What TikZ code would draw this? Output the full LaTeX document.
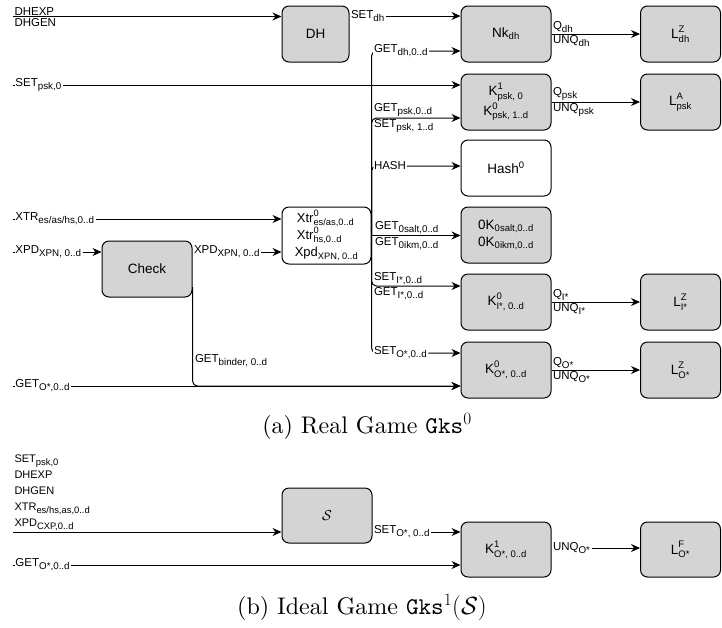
\documentclass[tikz,border=0pt]{standalone}
\usepackage{amsmath}
\usepackage{fontspec}
\newfontfamily\arialfont{Liberation Sans}
\newfontfamily\capfont{lmroman10-regular.otf}
\newfontfamily\captt{lmmono10-regular.otf}
\usepackage{tikz}
\usetikzlibrary{arrows.meta, positioning, calc}
\definecolor{boxgray}{HTML}{D4D4D4}

\DeclareMathSizes{11.5}{11.5}{9.8}{7}
\DeclareMathSizes{11}{11}{9.4}{7}
\DeclareMathSizes{13.5}{13.5}{9.5}{7}
\DeclareMathSizes{13}{13}{9.3}{7}
\DeclareMathSizes{24}{24}{17}{12}

\newcommand{\tx}[1]{\text{#1}}

\begin{document}
\begin{tikzpicture}[x=1pt, y=-1pt,
  every node/.style={font=\arialfont\fontsize{11.5}{14}\selectfont},
  box/.style={draw, rounded corners=7pt, line width=1pt, minimum width=90pt,
              minimum height=56pt, align=center,
              font=\arialfont\fontsize{13.5}{17}\selectfont},
  grey/.style={box, fill=boxgray},
  wbox/.style={box, fill=white},
  lbl/.style={inner sep=1pt},
  onl/.style={lbl, fill=white, anchor=west},
  arr/.style={-{Stealth[length=9pt, width=8pt]}, line width=1pt},
  captxt/.style={font=\capfont\fontsize{24}{28}\selectfont}
]
\useasboundingbox (0,0) rectangle (722,627);

%% (a) real game
\node[grey, minimum width=67pt] (DH) at (315.5,34) {DH};
\node[grey] (Nk)    at (506,34)  {Nk$_{\tx{dh}}$};
\node[grey, minimum width=80pt] (Ldh) at (680.5,34) {$\tx{L}^{\tx{Z}}_{\tx{dh}}$};
\node[grey] (Kpsk)  at (506,102) {$\tx{K}^{\tx{1}}_{\tx{psk, 0}}$\\$\tx{K}^{\tx{0}}_{\tx{psk, 1..d}}$};
\node[grey, minimum width=80pt] (Lpsk) at (680.5,102) {$\tx{L}^{\tx{A}}_{\tx{psk}}$};
\node[wbox] (Hash)  at (506,168) {Hash$^{\tx{0}}$};
\node[wbox, minimum width=89pt, minimum height=57pt, align=left, inner xsep=2pt,
      font=\arialfont\fontsize{13}{17}\selectfont] (Xtr) at (326.5,235.5)
  {\,$\tx{Xtr}^{\tx{0}}_{\tx{es/as,0..d}}$\\\,$\tx{Xtr}^{\tx{0}}_{\tx{hs,0..d}}$\\Xpd$_{\tx{XPN, 0..d}}$};
\node[grey] (Check) at (147,269) {Check};
\node[grey] (Zk)    at (506,235) {0K$_{\tx{0salt,0..d}}$\\0K$_{\tx{0ikm,0..d}}$};
\node[grey] (KI)    at (506,302) {$\tx{K}^{\tx{0}}_{\tx{I*, 0..d}}$};
\node[grey, minimum width=80pt] (LI) at (680.5,302) {$\tx{L}^{\tx{Z}}_{\tx{I*}}$};
\node[grey] (KO)    at (506,370) {$\tx{K}^{\tx{0}}_{\tx{O*, 0..d}}$};
\node[grey, minimum width=80pt] (LO) at (680.5,370) {$\tx{L}^{\tx{Z}}_{\tx{O*}}$};

%% adversary inputs
\coordinate (dhin)  at (13,16.5);
\coordinate (pskin) at (13,85);
\coordinate (xtrin) at (13,219);
\coordinate (xpdin) at (13,252);
\coordinate (getO)  at (13,386);

\draw[arr] (dhin) -- (dhin -| DH.west)
  node[lbl, pos=0, anchor=south west] {DHEXP}
  node[lbl, pos=0, anchor=north west] {DHGEN};
\draw[arr] (pskin) -- (pskin -| Kpsk.west)
  node[onl, pos=0, xshift=1pt] {SET$_{\tx{psk,0}}$};
\draw[arr] (xtrin) -- (xtrin -| Xtr.west)
  node[onl, pos=0, xshift=1pt] {XTR$_{\tx{es/as/hs,0..d}}$};
\draw[arr] (xpdin) -- (xpdin -| Check.west)
  node[onl, pos=0, xshift=1pt] {XPD$_{\tx{XPN, 0..d}}$};
\draw[arr] (getO) -- (getO -| KO.west)
  node[onl, pos=0, xshift=1pt] {GET$_{\tx{O*,0..d}}$};

\draw[arr] ([yshift=18pt]DH.east) -- ([yshift=18pt]Nk.west)
  node[onl, pos=0] {SET$_{\tx{dh}}$};
\draw[arr] (xpdin -| Check.east) -- (xpdin -| Xtr.west)
  node[onl, pos=0] {XPD$_{\tx{XPN, 0..d}}$};
\draw[arr, rounded corners=5pt] ([yshift=-18pt]Check.east) |- (getO -| KO.west)
  node[lbl, pos=0.37, anchor=west, xshift=1pt] {GET$_{\tx{binder, 0..d}}$};

%% key bus out of Xtr
\draw[arr, rounded corners=5pt] (Xtr.east) |- ([yshift=-17pt]Nk.west)
  node[onl, pos=0.5, xshift=1pt] {GET$_{\tx{dh,0..d}}$};
\draw[arr, rounded corners=5pt] (Xtr.east) |- ([yshift=-16pt]Kpsk.west)
  node[lbl, pos=0.5, anchor=south west, xshift=1pt] {GET$_{\tx{psk,0..d}}$}
  node[lbl, pos=0.5, anchor=north west, xshift=1pt] {SET$_{\tx{psk, 1..d}}$};
\draw[arr, rounded corners=5pt] (Xtr.east) |- ([yshift=2pt]Hash.west)
  node[onl, pos=0.5, xshift=1pt] {HASH};
\draw[arr] (Xtr.east) -- (Xtr.east -| Zk.west)
  node[lbl, pos=0, anchor=south west, xshift=2pt] {GET$_{\tx{0salt,0..d}}$}
  node[lbl, pos=0, anchor=north west, xshift=2pt] {GET$_{\tx{0ikm,0..d}}$};
\draw[arr, rounded corners=5pt] (Xtr.east) |- ([yshift=16pt]KI.west)
  node[lbl, pos=0.5, anchor=south west, xshift=1pt] {SET$_{\tx{I*,0..d}}$}
  node[lbl, pos=0.5, anchor=north west, xshift=1pt] {GET$_{\tx{I*,0..d}}$};
\draw[arr, rounded corners=5pt] (Xtr.east) |- ([yshift=17pt]KO.west)
  node[onl, pos=0.5, xshift=1pt] {SET$_{\tx{O*,0..d}}$};

%% packages to the logs
\foreach \a/\b/\c in {Nk/Ldh/dh, Kpsk/Lpsk/psk, KI/LI/I*, KO/LO/O*}
  \draw[arr] (\a.east) -- (\b.west)
    node[lbl, pos=0, anchor=south west] {Q$_{\tx{\c}}$}
    node[lbl, pos=0, anchor=north west] {UNQ$_{\tx{\c}}$};

\node[captxt] (capa) at (367,426) {(a) Real Game {\captt Gks}$^0$};

%% (b) ideal game
\node[grey, minimum height=55pt] (Sim) at (327,515.5) {$\mathcal{S}$};
\node[grey, minimum height=55pt] (KF)  at (506,549.5) {$\tx{K}^{\tx{1}}_{\tx{O*, 0..d}}$};
\node[grey, minimum height=55pt, minimum width=80pt] (LF) at (680.5,549.5) {$\tx{L}^{\tx{F}}_{\tx{O*}}$};

\coordinate (simin) at (13,532);
\coordinate (getOb) at (13,565);

\draw[arr] (simin) -- (simin -| Sim.west)
  node[lbl, pos=0, anchor=south west, align=left,
       font=\arialfont\fontsize{11}{16}\selectfont]
  {SET$_{\tx{psk,0}}$\\DHEXP\\DHGEN\\XTR$_{\tx{es/hs,as,0..d}}$\\XPD$_{\tx{CXP,0..d}}$};
\draw[arr] (simin -| Sim.east) -- (simin -| KF.west)
  node[onl, pos=0] {SET$_{\tx{O*, 0..d}}$};
\draw[arr] (getOb) -- (getOb -| KF.west)
  node[onl, pos=0, xshift=1pt] {GET$_{\tx{O*,0..d}}$};
\draw[arr] ([yshift=1.5pt]KF.east) -- ([yshift=1.5pt]LF.west)
  node[onl, pos=0] {UNQ$_{\tx{O*}}$};

\node[captxt] (capb) at (362,607.5) {(b) Ideal Game {\captt Gks}$^1(\mathcal{S})$};
\end{tikzpicture}
\end{document}
